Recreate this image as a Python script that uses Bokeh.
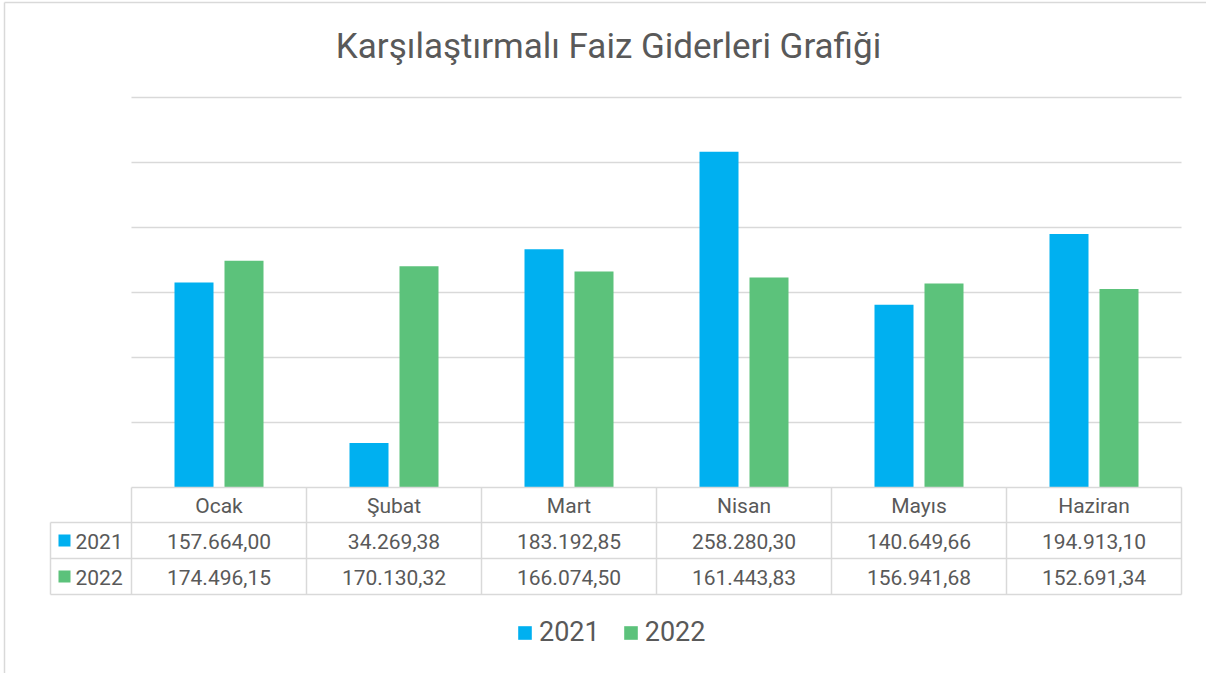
from bokeh.plotting import figure
from bokeh.models import Range1d, Legend, LegendItem
from bokeh.core.properties import value
from bokeh.embed import file_html
from bokeh.resources import INLINE

# ---- data ----
title_text = "Karşılaştırmalı Faiz Giderleri Grafiği"
months = ["Ocak", "Şubat", "Mart", "Nisan", "Mayıs", "Haziran"]
series_names = ["2021", "2022"]
values_2021 = [157664.00, 34269.38, 183192.85, 258280.30, 140649.66, 194913.10]
values_2022 = [174496.15, 170130.32, 166074.50, 161443.83, 156941.68, 152691.34]
grid_ticks = [50000, 100000, 150000, 200000, 250000, 300000]


def tr_fmt(v):
    s = f"{v:,.2f}"
    return s.replace(",", "X").replace(".", ",").replace("X", ".")


labels_2021 = [tr_fmt(v) for v in values_2021]
labels_2022 = [tr_fmt(v) for v in values_2022]

# ---- layout (reference pixel geometry -> data coords) ----
W, H = 1206, 673
X0, COL = 131, 175          # left of plot/table, column width (px)
Y0, YTOP, YMAX = 487, 97, 300000
K = YMAX / (Y0 - YTOP)


def fx(px):
    return (px - X0) / COL


def fy(py):
    return (Y0 - py) * K


C2021 = "#00B0F0"
C2022 = "#5CC27B"
GRID = "#D9D9D9"
TXT = "#595959"
FONT = value("Roboto")

p = figure(width=W, height=H, output_backend="svg", toolbar_location=None,
           x_range=Range1d(fx(0), fx(W)), y_range=Range1d(fy(H), fy(0)),
           x_axis_location=None, y_axis_location=None, min_border=0,
           background_fill_color="white", border_fill_color="white")
p.grid.visible = False
p.outline_line_color = None

# chart-area border (left and top edges visible)
p.segment(x0=[fx(4), fx(4)], x1=[fx(4), fx(W + 10)], y0=[fy(2), fy(2)], y1=[fy(H + 10), fy(2)],
          line_color=GRID, line_width=1.5)

n = len(months)
# gridlines
p.segment(x0=[0] * len(grid_ticks), x1=[n] * len(grid_ticks), y0=grid_ticks, y1=grid_ticks,
          line_color=GRID, line_width=1.5)

# bars
dx = 25 / COL
bw = 39 / COL
xs = [i + 0.5 for i in range(n)]
r1 = p.vbar(x=[x - dx for x in xs], top=values_2021, bottom=0, width=bw,
            fill_color=C2021, line_color=None)
r2 = p.vbar(x=[x + dx for x in xs], top=values_2022, bottom=0, width=bw,
            fill_color=C2022, line_color=None)

# data table lines
row_y = [487, 522, 558, 594]
hx0 = [fx(131), fx(50), fx(50), fx(50)]
p.segment(x0=hx0, x1=[n] * 4, y0=[fy(v) for v in row_y], y1=[fy(v) for v in row_y],
          line_color=GRID, line_width=1.5)
vx = [fx(50)] + list(range(n + 1))
vy0 = [fy(522)] + [fy(487)] * (n + 1)
p.segment(x0=vx, x1=vx, y0=vy0, y1=[fy(594)] * len(vx), line_color=GRID, line_width=1.5)

# table text
common = dict(text_font=FONT, text_font_size="21px", text_color=TXT,
              text_align="center", text_baseline="middle")
p.text(x=xs, y=[fy(505)] * n, text=months, **common)
p.text(x=xs, y=[fy(540.5)] * n, text=labels_2021, **common)
p.text(x=xs, y=[fy(576.5)] * n, text=labels_2022, **common)

# row headers
p.scatter(x=[fx(64), fx(64)], y=[fy(540), fy(576)], marker="square", size=12,
          fill_color=[C2021, C2022], line_color=None)
p.text(x=[fx(75), fx(75)], y=[fy(540.5), fy(576.5)], text=series_names,
       text_font=FONT, text_font_size="21px", text_color=TXT,
       text_align="left", text_baseline="middle")

# title
p.text(x=[fx(608)], y=[fy(46)], text=[title_text], text_font=FONT,
       text_font_size="35px", text_color=TXT, text_align="center", text_baseline="middle")

# legend
legend = Legend(items=[LegendItem(label=series_names[0], renderers=[r1]),
                       LegendItem(label=series_names[1], renderers=[r2])],
                orientation="horizontal", location=(516, 25),
                padding=0, margin=0, spacing=22, label_standoff=6,
                glyph_width=17, glyph_height=17,
                label_text_font="Roboto", label_text_font_size="27px",
                label_text_color=TXT, border_line_color=None,
                background_fill_alpha=0)
p.add_layout(legend)

open("out.html", "w").write(file_html(p, INLINE))
